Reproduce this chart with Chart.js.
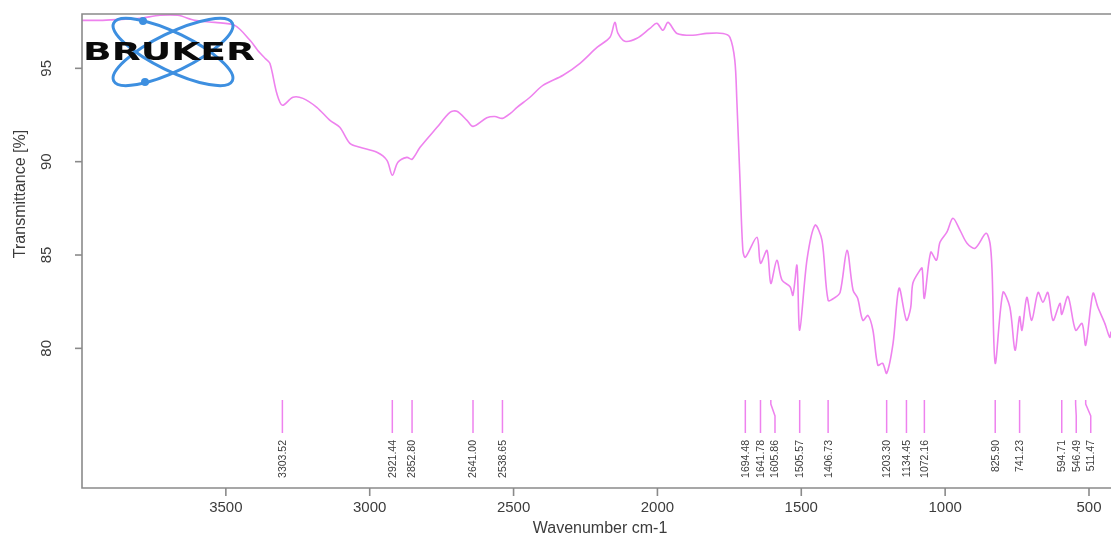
<!DOCTYPE html>
<html>
<head>
<meta charset="utf-8">
<script src="https://cdn.jsdelivr.net/npm/chart.js@4.4.1/dist/chart.umd.min.js"></script>
<style>
  html, body { margin: 0; padding: 0; background: #ffffff; }
  #wrap { width: 1111px; height: 542px; position: relative; }
</style>
</head>
<body>
<div id="wrap"><canvas id="spectrum" width="1111" height="542"></canvas></div>
<script>
// IR spectrum: wavenumber (cm-1) and transmittance (%)
const wavenumbers = [
  4000, 3938, 3868, 3799, 3729, 3667, 3608, 3538, 3469, 3416, 3389, 3364, 3347, 3323,
  3303.52, 3267, 3232, 3184, 3138, 3104, 3069, 3034, 2975, 2940, 2921.44, 2902, 2871,
  2852.80, 2825, 2766, 2721, 2697, 2662, 2641.00, 2593, 2565, 2538.65, 2510, 2488, 2443,
  2398, 2328, 2269, 2210, 2165, 2148, 2137, 2113, 2071, 2026, 2002, 1981, 1963, 1932,
  1877, 1828, 1772, 1748, 1731, 1724, 1713, 1703, 1694.48, 1654, 1641.78, 1619, 1605.86,
  1585, 1567, 1539, 1529, 1515, 1505.57, 1480, 1452, 1428, 1406.73, 1385, 1365, 1341,
  1320, 1304, 1286, 1268, 1251, 1234, 1217, 1203.30, 1181, 1160, 1134.45, 1120, 1112,
  1088, 1080, 1072.16, 1050, 1030, 1018, 994, 973, 948, 924, 896, 858, 844, 837, 825.90,
  799, 775, 757, 741.23, 733, 716, 699, 677, 660, 643, 625, 601, 594.71, 573, 546.49,
  524, 511.47, 486, 469, 445, 428, 423.5
];
const transmittance = [
  97.57, 97.57, 97.62, 97.68, 97.84, 97.84, 97.57, 97.46, 97.30, 96.50, 95.96, 95.54, 95.27, 93.66,
  93.02, 93.45, 93.39, 92.91, 92.21, 91.84, 90.98, 90.77, 90.50, 90.07, 89.27, 89.97, 90.23,
  90.13, 90.77, 91.84, 92.64, 92.70, 92.21, 91.89, 92.35, 92.42, 92.32, 92.60, 92.91, 93.45,
  94.09, 94.63, 95.27, 96.12, 96.66, 97.46, 96.87, 96.45, 96.61, 97.14, 97.41, 97.04, 97.46, 96.87,
  96.77, 96.87, 96.87, 96.66, 95.43, 93.29, 89.00, 85.25, 84.88, 85.95, 84.56, 85.25, 83.48,
  84.72, 83.65, 83.30, 82.84, 84.45, 80.97, 84.77, 86.60, 85.79, 82.57, 82.70, 83.00, 85.25,
  83.11, 82.68, 81.50, 81.76, 80.97, 79.10, 79.20, 78.66, 80.27, 83.22, 81.50, 82.15, 83.50,
  84.18, 84.30, 82.68, 85.15, 84.72, 85.68, 86.22, 86.97, 86.32, 85.63, 85.36, 86.16, 85.63, 84.20, 79.20,
  83.00, 82.20, 79.90, 81.70, 80.97, 82.73, 81.50, 83.00, 82.47, 83.00, 81.50, 82.41, 81.82, 82.78, 80.97,
  81.34, 80.17, 82.95, 82.20, 81.34, 80.59, 80.90
];

// Picked absorption bands (cm-1)
const peakPositions = [
  3303.52, 2921.44, 2852.80, 2641.00, 2538.65, 1694.48, 1641.78, 1605.86, 1505.57,
  1406.73, 1203.30, 1134.45, 1072.16, 825.90, 741.23, 594.71, 546.49, 511.47
];

const xTicks = [3500, 3000, 2500, 2000, 1500, 1000, 500];
const yTicks = [80, 85, 90, 95];

const LINE_COLOR = '#ee82ee';
const AXIS_COLOR = '#8a8a8a';
const TEXT_COLOR = '#3c3c3c';
const FONT = '"Liberation Sans", Arial, sans-serif';

// Frame, ticks, titles and peak annotations drawn with the chart's own scales
const framePlugin = {
  id: 'frame',
  afterDatasetsDraw(chart) {
    const { ctx, chartArea: a, scales: { x, y } } = chart;
    ctx.save();

    // box (left, top, bottom)
    ctx.strokeStyle = AXIS_COLOR;
    ctx.lineWidth = 1.6;
    ctx.beginPath();
    ctx.moveTo(a.right + 2, a.top);
    ctx.lineTo(a.left, a.top);
    ctx.lineTo(a.left, a.bottom);
    ctx.lineTo(a.right + 2, a.bottom);
    ctx.stroke();

    // y ticks and rotated labels
    ctx.fillStyle = TEXT_COLOR;
    ctx.font = '15px ' + FONT;
    yTicks.forEach(v => {
      const py = y.getPixelForValue(v);
      ctx.beginPath();
      ctx.moveTo(a.left - 7, py);
      ctx.lineTo(a.left, py);
      ctx.stroke();
      ctx.save();
      ctx.translate(a.left - 35, py);
      ctx.rotate(-Math.PI / 2);
      ctx.textAlign = 'center';
      ctx.textBaseline = 'middle';
      ctx.fillText(String(v), 0, 0);
      ctx.restore();
    });

    // x ticks and labels
    xTicks.forEach(v => {
      const px = x.getPixelForValue(v);
      ctx.beginPath();
      ctx.moveTo(px, a.bottom);
      ctx.lineTo(px, a.bottom + 8);
      ctx.stroke();
      ctx.textAlign = 'center';
      ctx.textBaseline = 'middle';
      ctx.fillText(String(v), px, a.bottom + 20);
    });

    // axis titles
    ctx.font = '16px ' + FONT;
    ctx.textAlign = 'center';
    ctx.textBaseline = 'middle';
    ctx.fillText('Wavenumber cm-1', 600, a.bottom + 41);
    ctx.save();
    ctx.translate(21, 194);
    ctx.rotate(-Math.PI / 2);
    ctx.fillText('Transmittance [%]', 0, 0);
    ctx.restore();

    // peak markers with labels spread so they do not overlap
    const marks = peakPositions
      .map(w => ({ w, px: x.getPixelForValue(w) }))
      .sort((p, q) => p.px - q.px);
    let last = -Infinity;
    marks.forEach(m => {
      m.lx = Math.max(m.px, last + 14.5);
      last = m.lx;
    });
    const top = a.bottom - 88, bendA = a.bottom - 84, bendB = a.bottom - 72, bot = a.bottom - 55;
    ctx.strokeStyle = LINE_COLOR;
    ctx.lineWidth = 1.5;
    marks.forEach(m => {
      ctx.beginPath();
      ctx.moveTo(m.px, top);
      if (Math.abs(m.lx - m.px) > 0.5) {
        ctx.lineTo(m.px, bendA);
        ctx.lineTo(m.lx, bendB);
      }
      ctx.lineTo(m.lx, bot);
      ctx.stroke();
    });
    ctx.fillStyle = TEXT_COLOR;
    ctx.font = '10.5px ' + FONT;
    marks.forEach(m => {
      ctx.save();
      ctx.translate(m.lx + 0.5, a.bottom - 48);
      ctx.rotate(-Math.PI / 2);
      ctx.textAlign = 'right';
      ctx.textBaseline = 'middle';
      ctx.fillText(m.w.toFixed(2), 0, 0);
      ctx.restore();
    });

    ctx.restore();
  },
  afterDraw(chart) {
    // instrument logo in the upper left corner
    const { ctx } = chart;
    ctx.save();
    ctx.strokeStyle = '#3d8fe0';
    ctx.lineWidth = 3;
    [26, -26].forEach(deg => {
      ctx.beginPath();
      ctx.ellipse(173, 52, 66, 19, deg * Math.PI / 180, 0, Math.PI * 2);
      ctx.stroke();
    });
    ctx.fillStyle = '#3d8fe0';
    [[143, 21], [145, 82]].forEach(([cx, cy]) => {
      ctx.beginPath();
      ctx.arc(cx, cy, 4, 0, Math.PI * 2);
      ctx.fill();
    });
    ctx.fillStyle = '#0a0a0a';
    ctx.font = 'bold 25px "DejaVu Sans", sans-serif';
    ctx.textBaseline = 'alphabetic';
    ctx.textAlign = 'left';
    const word = 'BRUKER';
    const w = ctx.measureText(word).width;
    ctx.translate(83, 60);
    ctx.scale(172 / w, 1);
    ctx.fillText(word, 0, 0);
    ctx.restore();
  }
};

new Chart(document.getElementById('spectrum'), {
  type: 'line',
  data: {
    datasets: [{
      data: wavenumbers.map((w, i) => ({ x: w, y: transmittance[i] })),
      borderColor: LINE_COLOR,
      borderWidth: 1.6,
      pointRadius: 0,
      tension: 0.3,
      fill: false
    }]
  },
  options: {
    responsive: false,
    animation: false,
    events: [],
    layout: { padding: { left: 82, top: 14, right: 0, bottom: 54 } },
    plugins: { legend: { display: false }, tooltip: { enabled: false } },
    scales: {
      x: { type: 'linear', reverse: true, min: 423.5, max: 4000, display: false },
      y: { type: 'linear', min: 72.52, max: 97.91, display: false }
    }
  },
  plugins: [framePlugin]
});
</script>
</body>
</html>
